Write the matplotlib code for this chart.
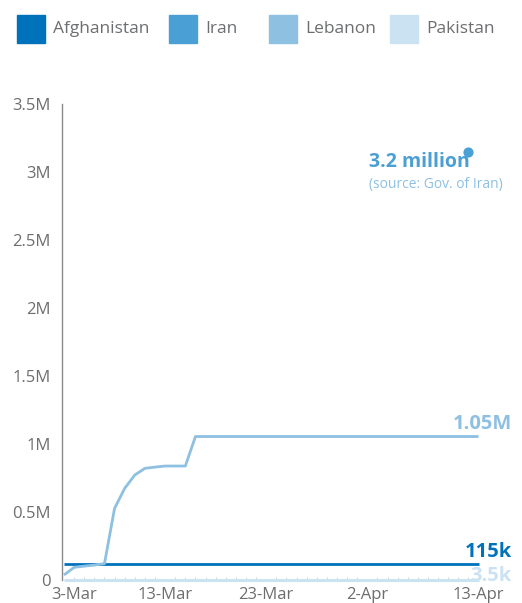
import matplotlib.pyplot as plt
import matplotlib.patches as mpatches
import matplotlib.transforms as mtransforms
import numpy as np
import pandas as pd

plt.rcParams["font.family"] = ["Open Sans", "DejaVu Sans"]

countries = ["Afghanistan", "Iran", "Lebanon", "Pakistan"]
colors = ["#0072bc", "#4a9fd4", "#8ec0e2", "#cbe2f2"]

# days since 3-Mar
leb_days = [0, 1, 2, 3, 4, 5, 6, 7, 8, 9, 10, 11, 12, 13, 41]
leb_vals = [37000, 93000, 102000, 110000, 120000, 527000, 674000, 772000,
            821000, 830000, 838000, 838000, 838000, 1055000, 1055000]
afg_days = [0, 41]
afg_vals = [115000, 115000]
pak_days = [0, 41]
pak_vals = [3500, 3500]
iran_days = [40]
iran_vals = [3150000]

tick_days = [0, 10, 20, 30, 41]
tick_labels = ["3-Mar", "13-Mar", "23-Mar", "2-Apr", "13-Apr"]
yticks = [0, 500000, 1000000, 1500000, 2000000, 2500000, 3000000, 3500000]
ylabels = ["0", "0.5M", "1M", "1.5M", "2M", "2.5M", "3M", "3.5M"]

grey = "#6d6e70"

fig = plt.figure(figsize=(5.22, 6.03), dpi=100)
ax = fig.add_axes([62 / 522, 23 / 603, 460 / 522, 476 / 603])

ax.plot(pak_days, pak_vals, color=colors[3], lw=2.2, solid_capstyle="butt", clip_on=False)
ax.plot(afg_days, afg_vals, color=colors[0], lw=2.0, solid_capstyle="butt")
ax.plot(leb_days, leb_vals, color=colors[2], lw=2.0, solid_capstyle="butt")
ax.scatter(iran_days, iran_vals, color=colors[1], s=40, zorder=3, clip_on=False)

ax.set_xlim(-0.2, 45.3)
ax.set_ylim(0, 3500000)
ax.set_xticks(tick_days)
ax.set_xticklabels(tick_labels)
ax.set_xticks(np.arange(0, 42), minor=True)
ax.set_yticks(yticks)
ax.set_yticklabels(ylabels)
ax.tick_params(axis="both", which="major", length=0, labelsize=12, labelcolor=grey)
ax.tick_params(axis="x", which="major", pad=5)
ax.tick_params(axis="x", which="minor", length=2, color="#cccccc", direction="in")
ax.tick_params(axis="y", pad=8)
for s in ["top", "right", "bottom"]:
    ax.spines[s].set_visible(False)
ax.spines["left"].set_color("#8a8a8a")
ax.spines["left"].set_linewidth(1.0)
ax.patch.set_alpha(0)

# first date label sits a little right of its tick
first = ax.get_xticklabels()[0]
first.set_transform(first.get_transform() + mtransforms.ScaledTranslation(10 / 100, 0, fig.dpi_scale_trans))

# end labels
ax.text(44.3, leb_vals[-1] + 20000, "1.05M", color=colors[2], fontsize=14.5,
        fontweight="bold", ha="right", va="bottom", clip_on=False)
ax.text(44.3, afg_vals[-1] + 20000, "115k", color=colors[0], fontsize=14.5,
        fontweight="bold", ha="right", va="bottom", clip_on=False)
ax.text(44.3, pak_vals[-1] - 50000, "3.5k", color=colors[3], fontsize=14.5,
        fontweight="bold", ha="right", va="bottom", clip_on=False)
ax.text(30.2, 3000000, "3.2 million", color=colors[1], fontsize=14,
        fontweight="bold", ha="left", va="bottom")
ax.text(30.2, 2850000, "(source: Gov. of Iran)", color=colors[2], fontsize=10,
        ha="left", va="bottom")

# legend
legend_x = [17, 169, 269, 390]
for x, c, name in zip(legend_x, colors, countries):
    fig.patches.append(mpatches.Rectangle((x / 522, 1 - 43 / 603), 28 / 522, 28 / 603,
                                          transform=fig.transFigure, color=c))
    fig.text((x + 36) / 522, 1 - 29 / 603, name, color=grey, fontsize=12.5,
             ha="left", va="center")

fig.savefig("out.png", dpi=100)
